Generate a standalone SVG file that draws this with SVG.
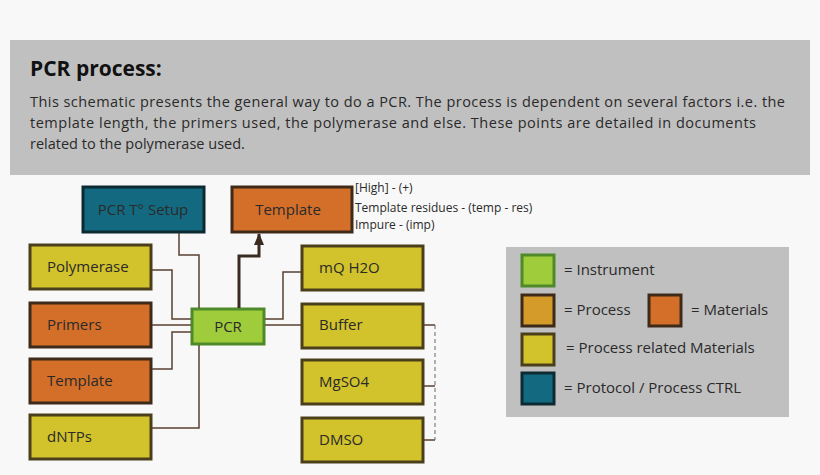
<svg xmlns="http://www.w3.org/2000/svg" width="820" height="475" viewBox="0 0 820 475">
<style>
text{font-family:"Open Sans","Noto Sans",sans-serif;fill:#2a2a2a}
.n{stroke-width:3}
.y{fill:#d2c22c;stroke:#4a3f1a}
.o{fill:#d46f2a;stroke:#3e2a18}
.b{fill:#136a80;stroke:#0d2a33}
.g{fill:#9fcc3b;stroke:#4f8a2a}
.p{fill:#d49b2a;stroke:#3e2a18}
.l{font-size:15px}
.c{fill:none;stroke:#5a4030;stroke-width:1.5}
</style>
<defs><marker id="ah" markerWidth="12" markerHeight="10" refX="11" refY="5" orient="auto" markerUnits="userSpaceOnUse"><path d="M0,0 L12,5 L0,10 Z" fill="#3a2a20"/></marker></defs>
<rect width="820" height="475" fill="#f8f8f8"/>
<g id="header">
<rect x="10" y="40" width="800" height="135" fill="#c0c0c0"/>
<text x="30" y="76" style="font-size:21px;font-weight:bold;fill:#111">PCR process:</text>
<text x="30" y="107" style="font-size:14.5px" textLength="755">This schematic presents the general way to do a PCR. The process is dependent on several factors i.e. the</text>
<text x="30" y="128" style="font-size:14.5px" textLength="726">template length, the primers used, the polymerase and else. These points are detailed in documents</text>
<text x="30" y="149" style="font-size:14.5px">related to the polymerase used.</text>
</g>
<g id="setup"><rect class="n b" x="83" y="187" width="121" height="45"/><text class="l" x="143" y="215" text-anchor="middle">PCR T° Setup</text></g>
<g id="template-out"><rect class="n o" x="232" y="187" width="120" height="45"/><text class="l" x="288" y="215" text-anchor="middle">Template</text></g>
<g id="template-notes">
<text x="355" y="192" style="font-size:12px">[High] - (+)</text>
<text x="355" y="212" style="font-size:12px">Template residues - (temp - res)</text>
<text x="355" y="229" style="font-size:12px">Impure - (imp)</text>
</g>
<g id="polymerase"><rect class="n y" x="30" y="245" width="121" height="44"/><text class="l" x="47" y="272">Polymerase</text></g>
<g id="primers"><rect class="n o" x="30" y="303" width="121" height="44"/><text class="l" x="47" y="330">Primers</text></g>
<g id="template-in"><rect class="n o" x="30" y="359" width="121" height="44"/><text class="l" x="47" y="386">Template</text></g>
<g id="dntps"><rect class="n y" x="30" y="415" width="121" height="44"/><text class="l" x="47" y="442">dNTPs</text></g>
<g id="pcr"><rect class="n g" x="192" y="309" width="72" height="35"/><text class="l" x="228" y="332" text-anchor="middle">PCR</text></g>
<g id="mqh2o"><rect class="n y" x="302" y="246" width="121" height="44"/><text class="l" x="319" y="273">mQ H2O</text></g>
<g id="buffer"><rect class="n y" x="302" y="304" width="121" height="44"/><text class="l" x="319" y="330">Buffer</text></g>
<g id="mgso4"><rect class="n y" x="302" y="360" width="121" height="44"/><text class="l" x="319" y="387">MgSO4</text></g>
<g id="dmso"><rect class="n y" x="302" y="418" width="121" height="44"/><text class="l" x="319" y="445">DMSO</text></g>
<g id="connectors">
<path class="c" d="M179,233 V255 H199 V308"/>
<path class="c" d="M152,270 H172 V319 H191"/>
<path class="c" d="M152,325 H191"/>
<path class="c" d="M152,369 H172 V332 H191"/>
<path class="c" d="M152,428 H199 V345"/>
<path class="c" d="M265,319 H283 V272 H301"/>
<path class="c" d="M265,325 H301"/>
<path d="M239,308 V256 H259 V234" fill="none" stroke="#3a2a20" stroke-width="3" marker-end="url(#ah)"/>
<path class="c" d="M424,325 H435 M424,386 H435 M424,440 H435"/>
<path d="M435,325 V440" fill="none" stroke="#666" stroke-width="1" stroke-dasharray="4,3"/>
</g>
<g id="legend">
<rect x="506" y="247" width="283" height="170" fill="#c0c0c0"/>
<rect class="n g" x="522" y="255" width="32" height="31"/><text class="l" x="564" y="275">= Instrument</text>
<rect class="n p" x="522" y="295" width="32" height="31"/><text class="l" x="564" y="315">= Process</text>
<rect class="n o" x="649" y="295" width="32" height="31"/><text class="l" x="691" y="315">= Materials</text>
<rect class="n y" x="522" y="334" width="32" height="31"/><text class="l" x="566" y="353">= Process related Materials</text>
<rect class="n b" x="522" y="373" width="32" height="31"/><text class="l" x="564" y="393">= Protocol / Process CTRL</text>
</g>
</svg>
